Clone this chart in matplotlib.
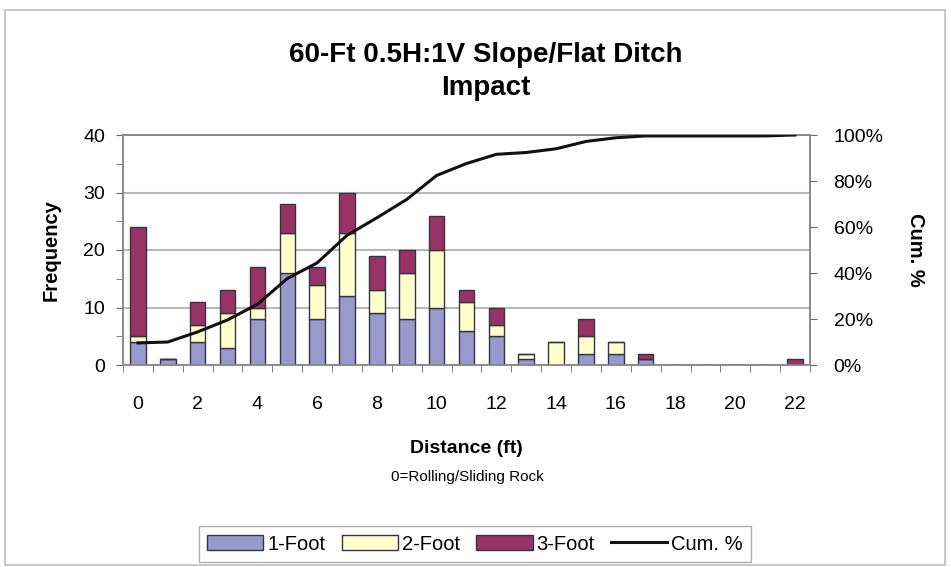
import numpy as np
import matplotlib
matplotlib.use("Agg")
import matplotlib.pyplot as plt
from matplotlib.ticker import FixedLocator, FuncFormatter, MultipleLocator

plt.rcParams['font.family'] = ['Liberation Sans', 'DejaVu Sans']

distance = list(range(23))
foot1 = [4, 1, 4, 3, 8, 16, 8, 12, 9, 8, 10, 6, 5, 1, 0, 2, 2, 1, 0, 0, 0, 0, 0]
foot2 = [1, 0, 3, 6, 2, 7, 6, 11, 4, 8, 10, 5, 2, 1, 4, 3, 2, 0, 0, 0, 0, 0, 0]
foot3 = [19, 0, 4, 4, 7, 5, 3, 7, 6, 4, 6, 2, 3, 0, 0, 3, 0, 1, 0, 0, 0, 0, 1]
x_labels = [str(d) if d % 2 == 0 else "" for d in distance]

W, H = 951, 567
fig = plt.figure(figsize=(W / 100, H / 100), dpi=100)
fig.patch.set_facecolor("white")

# outer chart border
fig.add_artist(plt.Rectangle((5 / W, 1 - 565 / H), 940 / W, 555 / H, transform=fig.transFigure,
                             fill=False, edgecolor="#bdbdbd", linewidth=1.2))

ax = fig.add_axes([123 / W, 1 - 365 / H, 687 / W, 230 / H])
x = np.array(distance)
f1 = np.array(foot1); f2 = np.array(foot2); f3 = np.array(foot3)
bw = 0.52
ec = "#333344"
b1 = ax.bar(x, f1, bw, color="#9999cc", edgecolor=ec, linewidth=1.0, label="1-Foot", zorder=3)
b2 = ax.bar(x, f2, bw, bottom=f1, color="#ffffcc", edgecolor=ec, linewidth=1.0, label="2-Foot", zorder=3)
b3 = ax.bar(x, f3, bw, bottom=f1 + f2, color="#993366", edgecolor=ec, linewidth=1.0, label="3-Foot", zorder=3)

ax.set_xlim(-0.5, 22.5)
ax.set_ylim(0, 40)
ax.yaxis.set_major_locator(FixedLocator([0, 10, 20, 30, 40]))
ax.yaxis.set_minor_locator(MultipleLocator(5))
ax.set_xticks(x)
ax.set_xticklabels(x_labels, fontsize=14)
ax.xaxis.set_minor_locator(FixedLocator(np.arange(-0.5, 23, 1)))
ax.tick_params(axis="x", which="major", length=0, pad=22)
ax.tick_params(axis="x", which="minor", length=5, color="#666666")
ax.tick_params(axis="y", which="both", length=5, color="#666666", labelsize=14, pad=8)
for yv in [10, 20, 30]:
    ax.axhline(yv, color="#b8b8b8", linewidth=1.5, zorder=1)
for s in ["left", "bottom", "top", "right"]:
    ax.spines[s].set_color("#8a8a8a")
    ax.spines[s].set_linewidth(1.2)
ax.set_ylabel("Frequency", fontsize=14.5, fontweight="bold", labelpad=16)
ax.set_xlabel("Distance (ft)", fontsize=14, fontweight="bold", labelpad=20)
fig.text(467 / W, 1 - 477 / H, "0=Rolling/Sliding Rock", fontsize=11, ha="center", va="center")

ax2 = ax.twinx()
total = (f1 + f2 + f3).sum()
cum = np.cumsum(f1 + f2 + f3) / total * 100
ln, = ax2.plot(x, cum, color="#111111", linewidth=2.2, label="Cum. %", zorder=4)
ax2.set_ylim(0, 100)
ax2.yaxis.set_major_locator(FixedLocator([0, 20, 40, 60, 80, 100]))
ax2.yaxis.set_major_formatter(FuncFormatter(lambda v, p: f"{int(v)}%"))
ax2.tick_params(axis="y", length=5, color="#666666", labelsize=14, pad=12)
for s in ["left", "bottom", "top", "right"]:
    ax2.spines[s].set_color("#8a8a8a")
    ax2.spines[s].set_linewidth(1.2)
ax2.set_ylabel("Cum. %", fontsize=14.5, fontweight="bold", rotation=270, labelpad=30)

fig.text(486 / W, 1 - 62 / H, "60-Ft 0.5H:1V Slope/Flat Ditch", fontsize=20, fontweight="bold",
         ha="center", va="baseline")
fig.text(486 / W, 1 - 95 / H, "Impact", fontsize=20, fontweight="bold", ha="center", va="baseline")

leg = fig.legend([b1, b2, b3, ln], ["1-Foot", "2-Foot", "3-Foot", "Cum. %"], ncol=4,
                 loc="center", bbox_to_anchor=(475 / W, 1 - 544 / H), fontsize=14.5,
                 frameon=True, fancybox=False, edgecolor="#999999", handlelength=2.8,
                 handletextpad=0.2, columnspacing=0.8, borderpad=0.4)
leg.get_frame().set_linewidth(1.0)

fig.savefig("out.png", dpi=100)
